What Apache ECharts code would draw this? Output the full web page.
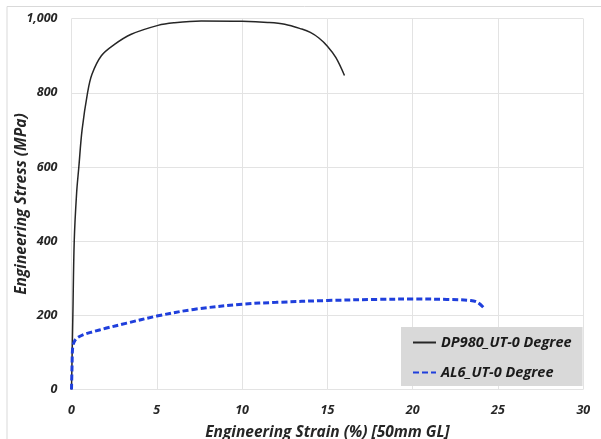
<!DOCTYPE html>
<html><head><meta charset="utf-8">
<script src="https://cdn.jsdelivr.net/npm/echarts@6/dist/echarts.min.js"></script>
<style>html,body{margin:0;padding:0;background:#fff}#c{width:601px;height:439px}</style>
</head><body><div id="c"></div>
<script>
var seriesNames = ['DP980_UT-0 Degree', 'AL6_UT-0 Degree'];
var dp980Strain = [0, 0.08, 0.16, 0.3, 0.43, 0.62, 0.94, 1.2, 1.75, 2.5, 3.5, 5.07, 6, 7.6, 10, 11.5, 12.5, 13.5, 14, 14.5, 15, 15.5, 16];
var dp980Stress = [0, 200, 400, 530, 600, 700, 800, 850, 900, 930, 958, 982, 989, 994, 993, 990, 985, 972, 963, 948, 926, 895, 847];
var al6Strain = [0, 0.03, 0.07, 0.15, 0.3, 0.7, 1.28, 2, 3.24, 5, 7.16, 10, 12, 15, 18, 20, 22, 23.4, 23.8, 24.15];
var al6Stress = [0, 60, 115, 128, 138, 148, 156, 165, 179, 198, 216, 230, 235, 240, 243, 244, 243, 240, 235, 221];
var xTicks = [0, 5, 10, 15, 20, 25, 30];
var yTicks = [0, 200, 400, 600, 800, 1000];

function pairs(xs, ys) { return xs.map(function (x, i) { return [x, ys[i]]; }); }
var font = '"Open Sans", "DejaVu Sans", sans-serif';
var chart = echarts.init(document.getElementById('c'));
chart.setOption({
  animation: false,
  backgroundColor: '#fff',
  graphic: [{
    type: 'rect', shape: { x: 7, y: 6.5, width: 700, height: 600 },
    style: { fill: 'none', stroke: '#d9d9d9', lineWidth: 1 }, silent: true, z: -1
  }],
  grid: { left: 71.5, right: 17.7, top: 18.7, bottom: 49.5, containLabel: false, outerBoundsMode: 'none' },
  xAxis: {
    type: 'value', min: xTicks[0], max: xTicks[xTicks.length - 1], interval: 5,
    name: 'Engineering Strain (%) [50mm GL]', nameLocation: 'middle', nameGap: 35, nameMoveOverlap: false,
    nameTextStyle: { fontFamily: font, fontSize: 15.5, fontWeight: 'bold', fontStyle: 'italic', color: '#262626' },
    axisLine: { show: false }, axisTick: { show: false },
    axisLabel: { margin: 14, fontFamily: font, fontSize: 12.5, fontWeight: 'bold', fontStyle: 'italic', color: '#262626' },
    splitLine: { show: true, showMinLine: true, showMaxLine: true, lineStyle: { color: '#e3e3e3', width: 1 } }
  },
  yAxis: {
    type: 'value', min: yTicks[0], max: yTicks[yTicks.length - 1], interval: 200,
    name: 'Engineering Stress (MPa)', nameLocation: 'middle', nameGap: 42, nameMoveOverlap: false,
    nameTextStyle: { fontFamily: font, fontSize: 15.5, fontWeight: 'bold', fontStyle: 'italic', color: '#262626' },
    axisLine: { show: false }, axisTick: { show: false },
    axisLabel: {
      margin: 14, fontFamily: font, fontSize: 12.5, fontWeight: 'bold', fontStyle: 'italic', color: '#262626',
      formatter: function (v) { return v >= 1000 ? Math.floor(v / 1000) + ',' + String(v % 1000).padStart(3, '0') : String(v); }
    },
    splitLine: { show: true, showMinLine: true, showMaxLine: true, lineStyle: { color: '#e3e3e3', width: 1 } }
  },
  legend: {
    orient: 'vertical', left: 401, top: 327,
    backgroundColor: '#d9d9d9', padding: [8, 11, 6, 11],
    itemWidth: 23, itemHeight: 14, itemGap: 15,
    itemStyle: { opacity: 0 },
    textStyle: { fontFamily: font, fontSize: 14.5, fontWeight: 'bold', fontStyle: 'italic', color: '#1a1a1a' },
    data: seriesNames
  },
  series: [{
    name: seriesNames[0], type: 'line', data: pairs(dp980Strain, dp980Stress),
    showSymbol: false, symbol: 'none', smooth: 0.35,
    lineStyle: { color: '#262626', width: 1.5 }, itemStyle: { color: '#262626' }
  }, {
    name: seriesNames[1], type: 'line', data: pairs(al6Strain, al6Stress),
    showSymbol: false, symbol: 'none', smooth: 0.35,
    lineStyle: { color: '#1f3fdc', width: 3, type: [6, 3] }, itemStyle: { color: '#1f3fdc' }
  }]
});
</script></body></html>
